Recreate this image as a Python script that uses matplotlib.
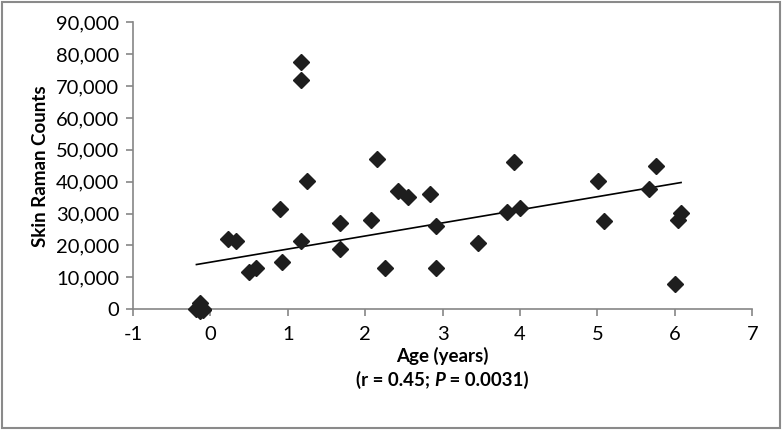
import numpy as np
import matplotlib.pyplot as plt
from matplotlib.patches import Rectangle

plt.rcParams['font.family'] = ['Lato', 'DejaVu Sans']
plt.rcParams['axes.unicode_minus'] = False

# age (years) and skin Raman counts
# (the newborn cluster near age 0 holds several overlapping points)
age = [-0.18, -0.15, -0.14, -0.13, -0.13, -0.12, -0.12, -0.11, -0.10, -0.09,
       0.23, 0.335, 0.50, 0.59, 0.90, 0.92, 1.17, 1.17, 1.17,
       1.25, 1.675, 1.675, 2.08, 2.15, 2.255, 2.43, 2.555, 2.835, 2.92, 2.92,
       3.46, 3.83, 3.92, 4.0, 5.01, 5.08, 5.67, 5.75, 6.0, 6.04, 6.08]
counts = [0, 0, 500, 2000, -500, 300, 0, 0, -200, 200,
          22000, 21400, 11800, 12800, 31300, 14700, 77600, 71800, 21500,
          40300, 27100, 18800, 28000, 47000, 13000, 37100, 35300, 36100, 26100, 13000,
          20900, 30600, 46300, 31600, 40200, 27800, 37600, 45000, 7900, 28000, 30300]
xticks = list(range(-1, 8))
yticks = list(range(0, 90001, 10000))

fig = plt.figure(figsize=(7.82, 4.30), dpi=100)
ax = fig.add_axes([0.170, 0.281, 0.792, 0.667])

ax.plot(age, counts, 'D', color='#1e1e1e', markersize=8, clip_on=False, zorder=3)

# linear trend line over the data range
k, b = np.polyfit(age, counts, 1)
xs = np.array([min(age), max(age)])
ax.plot(xs, k * xs + b, color='black', lw=1.2, zorder=2)

ax.set_xlim(-1, 7)
ax.set_ylim(0, 90000)
ax.set_xticks(xticks)
ax.set_yticks(yticks)
ax.set_yticklabels([f'{v:,}' for v in yticks])
for s in ['top', 'right']:
    ax.spines[s].set_visible(False)
for s in ['left', 'bottom']:
    ax.spines[s].set_color('#868686')
    ax.spines[s].set_linewidth(1.2)
ax.tick_params(colors='#868686', labelcolor='black', labelsize=14.5, length=5, width=1.2)
ax.tick_params(axis='x', pad=7)
ax.tick_params(axis='y', pad=5)

ax.set_ylabel('Skin Raman Counts', fontsize=13.5, fontweight='bold', labelpad=5)
ax.set_xlabel('Age (years)', fontsize=13.5, fontweight='bold', labelpad=3)

# second line of the x label, with italic P
fs = 13.5
t1 = fig.text(0.5, 0.102, '(r = 0.45; ', fontsize=fs, fontweight='bold', ha='left', va='baseline')
t2 = ax.annotate('P', xy=(1, 0), xycoords=t1, fontsize=fs, fontweight='bold',
                 fontstyle='italic', va='bottom')
t3 = ax.annotate(' = 0.0031)', xy=(1, 0), xycoords=t2, fontsize=fs, fontweight='bold',
                 va='bottom')
fig.canvas.draw()
r = fig.canvas.get_renderer()
x0 = t1.get_window_extent(r).x0
x1 = t3.get_window_extent(r).x1
axc = ax.get_window_extent(r)
cx = (axc.x0 + axc.x1) / 2
W = fig.bbox.width
t1.set_x((cx - (x1 - x0) / 2) / W)

fig.patches.append(Rectangle((0.002, 0.004), 0.996, 0.992, transform=fig.transFigure,
                             fill=False, edgecolor='#8a8a8a', lw=1.5))

fig.savefig('out.png', dpi=100)
